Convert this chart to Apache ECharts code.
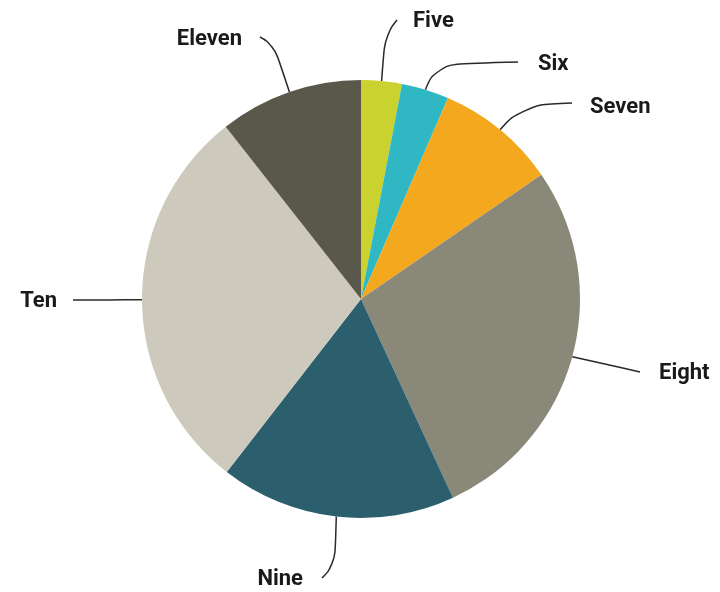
<!DOCTYPE html>
<html><head><meta charset="utf-8">
<script src="https://cdn.jsdelivr.net/npm/echarts@6/dist/echarts.min.js"></script>
<style>html,body{margin:0;padding:0;background:#fff}#c{width:720px;height:592px}</style>
</head><body><div id="c"></div>
<script>
const categories = ['Five','Six','Seven','Eight','Nine','Ten','Eleven'];
const values = [3.0, 3.5, 8.9, 27.7, 17.4, 28.9, 10.6];
const colors = ['#c9d22e','#2fb8c4','#f4a81d','#8a8979','#2c5f6e','#cdc9bc','#5a584a'];

// label anchor layout (text anchor x, y, align) and leader-line bend points
const labelAnchor = [
  [413, 21, 'left'], [538, 64, 'left'], [590, 107, 'left'], [659, 373, 'left'],
  [303, 579, 'right'], [57, 301, 'right'], [242, 39, 'right']
];
const lineBend = [
  [[385, 35], [397, 20]],
  [[436, 64], [518, 62]],
  [[522, 105], [572, 103]],
  [[606, 364], [640, 372]],
  [[335, 565], [322, 578]],
  [[108, 300], [73, 300]],
  [[274, 45], [260, 37]]
];

const chart = echarts.init(document.getElementById('c'), null, {renderer:'canvas'});
chart.setOption({
  animation:false,
  series:[{
    type:'pie',
    center:[361,299],
    radius:[0,219],
    startAngle:90,
    clockwise:true,
    data: categories.map((n,i)=>({name:n,value:values[i],itemStyle:{color:colors[i]}})),
    label:{show:true, color:'#1a1a1a', fontFamily:'Roboto', fontWeight:'bold', fontSize:22},
    labelLine:{show:true, length:20, length2:30, smooth:0.5, lineStyle:{color:'#2a2a2a', width:1.5}},
    labelLayout: function(p){
      const i = p.dataIndex;
      const a = labelAnchor[i];
      const start = p.labelLinePoints ? p.labelLinePoints[0] : lineBend[i][0];
      return {
        x: a[0], y: a[1], align: a[2], verticalAlign: 'middle',
        labelLinePoints: [start, lineBend[i][0], lineBend[i][1]]
      };
    },
    itemStyle:{borderWidth:0}
  }]
});
</script></body></html>
